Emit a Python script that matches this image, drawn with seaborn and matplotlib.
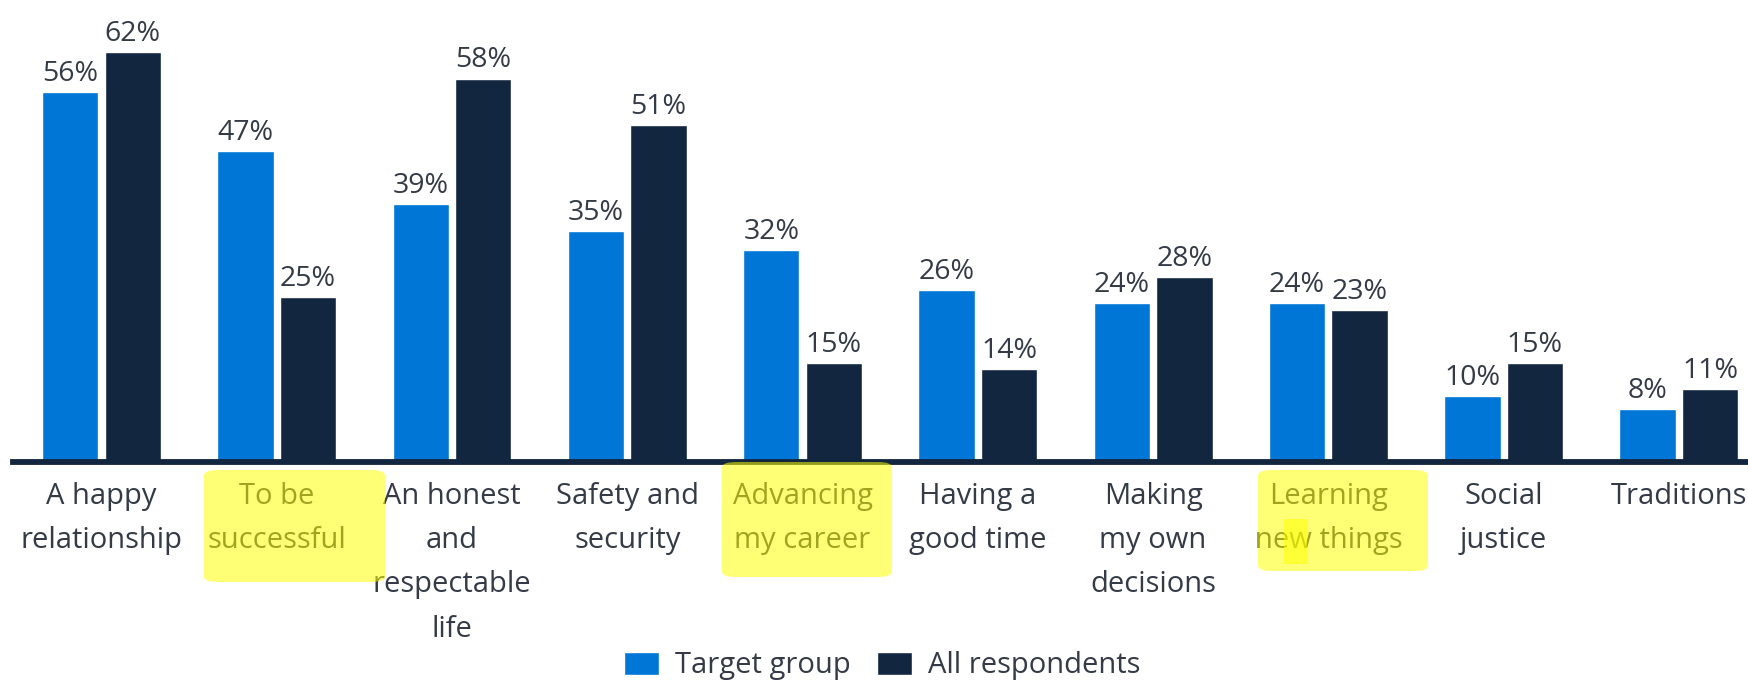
import matplotlib
matplotlib.use("Agg")
import matplotlib.pyplot as plt
from matplotlib.patches import FancyBboxPatch
import seaborn as sns
import pandas as pd

categories = ["A happy\nrelationship", "To be\nsuccessful", "An honest\nand\nrespectable\nlife",
              "Safety and\nsecurity", "Advancing\nmy career", "Having a\ngood time",
              "Making\nmy own\ndecisions", "Learning\nnew things", "Social\njustice", "Traditions"]
target_group = [56, 47, 39, 35, 32, 26, 24, 24, 10, 8]
all_respondents = [62, 25, 58, 51, 15, 14, 28, 23, 15, 11]
series_names = ["Target group", "All respondents"]

BLUE = "#0077d6"
NAVY = "#13263f"
TEXT = "#343b47"

df = pd.DataFrame({
    "category": categories * 2,
    "value": target_group + all_respondents,
    "series": [series_names[0]] * len(categories) + [series_names[1]] * len(categories),
})

sns.set_theme(style="white")
plt.rcParams["font.family"] = ["Open Sans", "DejaVu Sans"]

W, H = 1749, 680
fig = plt.figure(figsize=(W / 100, H / 100), dpi=100)
ax = fig.add_axes([13 / W, (H - 462) / H, 1 - 13 / W, 462 / H])

sns.barplot(data=df, x="category", y="value", hue="series", order=categories,
            hue_order=series_names, palette=[BLUE, NAVY], width=0.714, gap=0.1,
            saturation=1, ax=ax, legend=True)

for cont in ax.containers:
    ax.bar_label(cont, labels=[f"{v:.0f}%" for v in cont.datavalues], padding=3,
                 fontsize=20.5, color=TEXT)

ax.set_xlim(-0.505, 9.40)
ax.set_ylim(0, 69.9)
ax.set_xlabel("")
ax.set_ylabel("")
ax.set_yticks([])
for s in ["left", "right", "top"]:
    ax.spines[s].set_visible(False)
ax.spines["bottom"].set_color(NAVY)
ax.spines["bottom"].set_linewidth(4.2)
ax.tick_params(axis="x", length=0, pad=14.5, labelsize=21, labelcolor=TEXT)
for lab in ax.get_xticklabels():
    lab.set_linespacing(1.69)
    lab.set_multialignment("center")

leg = ax.legend(loc="center", bbox_to_anchor=(882 / W, 14 / H), bbox_transform=fig.transFigure,
                ncol=2, frameon=False, fontsize=21, handlelength=1.2, handleheight=0.83,
                handletextpad=0.55, columnspacing=0.9)
for t in leg.get_texts():
    t.set_color(TEXT)

# yellow highlighter marks (pixel boxes: x0, y0_top, x1, y1_bottom)
def highlight(x0, y0, x1, y1, r=14):
    p = FancyBboxPatch((x0 / W, (H - y1) / H), (x1 - x0) / W, (y1 - y0) / H,
                       boxstyle=f"round,pad=0,rounding_size={r / W}",
                       transform=fig.transFigure, facecolor="#ffff00", edgecolor="none",
                       alpha=0.54, zorder=10)
    fig.add_artist(p)

highlight(204, 470, 385, 582)
highlight(722, 462, 892, 577)
highlight(1258, 470, 1428, 571)
highlight(1284, 519, 1307, 564, r=1)

fig.savefig("out.png", dpi=100)
